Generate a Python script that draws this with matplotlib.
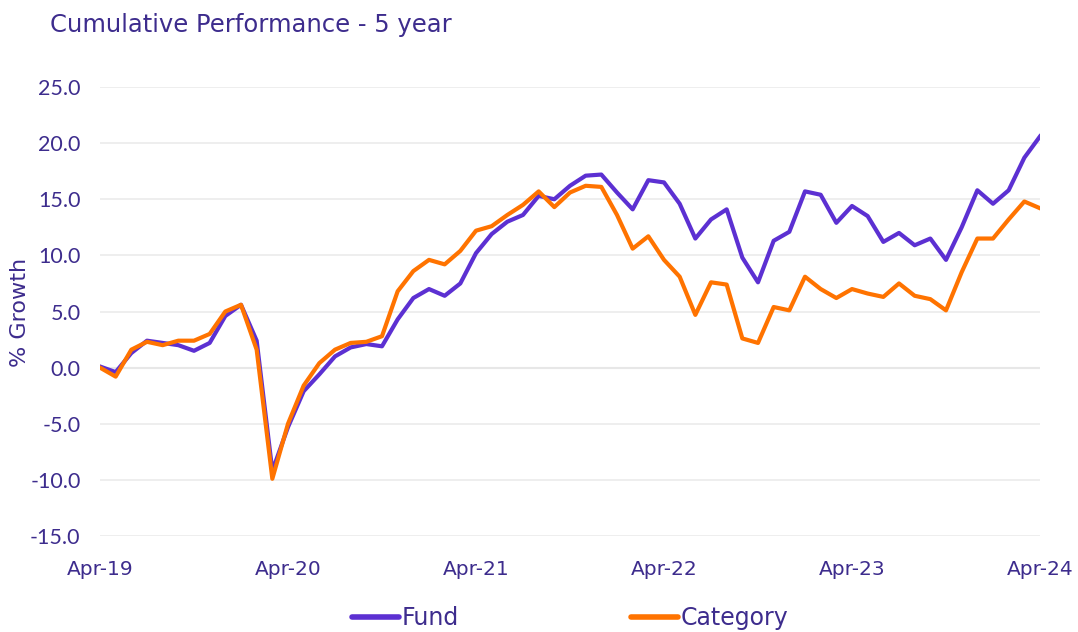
import numpy as np
import matplotlib
matplotlib.use("Agg")
import matplotlib.pyplot as plt

# monthly cumulative growth, Apr-19 .. Apr-24
fund = [0.1, -0.4, 1.3, 2.4, 2.2, 2.0, 1.5, 2.2, 4.6, 5.6,
        2.4, -9.2, -5.3, -2.1, -0.6, 1.0, 1.8, 2.1, 1.9, 4.3,
        6.2, 7.0, 6.4, 7.5, 10.2, 11.9, 13.0, 13.6, 15.3, 15.0,
        16.2, 17.1, 17.2, 15.6, 14.1, 16.7, 16.5, 14.6, 11.5, 13.2,
        14.1, 9.8, 7.6, 11.3, 12.1, 15.7, 15.4, 12.9, 14.4, 13.5,
        11.2, 12.0, 10.9, 11.5, 9.6, 12.5, 15.8, 14.6, 15.8, 18.7,
        20.6]
category = [0.0, -0.8, 1.6, 2.3, 2.0, 2.4, 2.4, 3.0, 5.0, 5.6,
            1.6, -9.9, -5.0, -1.6, 0.4, 1.6, 2.2, 2.3, 2.8, 6.8,
            8.6, 9.6, 9.2, 10.4, 12.2, 12.6, 13.6, 14.5, 15.7, 14.3,
            15.6, 16.2, 16.1, 13.6, 10.6, 11.7, 9.6, 8.1, 4.7, 7.6,
            7.4, 2.6, 2.2, 5.4, 5.1, 8.1, 7.0, 6.2, 7.0, 6.6,
            6.3, 7.5, 6.4, 6.1, 5.1, 8.5, 11.5, 11.5, 13.2, 14.8,
            14.2]
tick_labels = ["Apr-19", "Apr-20", "Apr-21", "Apr-22", "Apr-23", "Apr-24"]

text_col = "#3D2C8D"
fund_col = "#5C30D2"
cat_col = "#FF7300"

plt.rcParams["font.family"] = ["DejaVu Sans"]

fig = plt.figure(figsize=(10.78, 6.32), dpi=100)
ax = fig.add_axes([100 / 1078, 1 - 536 / 632, 940 / 1078, 449 / 632])

x = np.arange(len(fund))
ax.plot(x, fund, color=fund_col, lw=3, label="Fund", solid_joinstyle="round", zorder=3)
ax.plot(x, category, color=cat_col, lw=3, label="Category", solid_joinstyle="round", zorder=4)

ax.set_xlim(0, 60)
ax.set_ylim(-15, 25)
ax.set_yticks(np.arange(-15, 26, 5))
ax.set_yticklabels([f"{v:.1f}" for v in np.arange(-15, 26, 5)],
                   family=["Lato", "DejaVu Sans"], fontsize=15.5)
ax.set_xticks(np.arange(0, 61, 12))
ax.set_xticklabels(tick_labels, fontsize=14.5)

ax.grid(axis="y", color="#EBEBEB", lw=1.2, zorder=0)
ax.axhline(0, color="#D6D6D6", lw=1.5, zorder=1)
for s in ax.spines.values():
    s.set_visible(False)
ax.tick_params(length=0, labelcolor=text_col)
ax.tick_params(axis="x", pad=17)
ax.tick_params(axis="y", pad=14)

fig.text(20 / 1078, 1 - 312 / 632, "% Growth", rotation=90, fontsize=16,
         color=text_col, ha="center", va="center")
fig.text(50 / 1078, 1 - 25 / 632, "Cumulative Performance - 5 year",
         fontsize=17.5, color=text_col, va="center", ha="left")

leg = fig.legend(loc="center", bbox_to_anchor=(570 / 1078, 1 - 618 / 632), ncol=2,
                 frameon=False, fontsize=17, handlelength=2.0, handletextpad=0.1,
                 columnspacing=7.3)
for t in leg.get_texts():
    t.set_color(text_col)
for h in leg.get_lines():
    h.set_linewidth(4)
    h.set_solid_capstyle("round")

fig.savefig("out.png", dpi=100)
